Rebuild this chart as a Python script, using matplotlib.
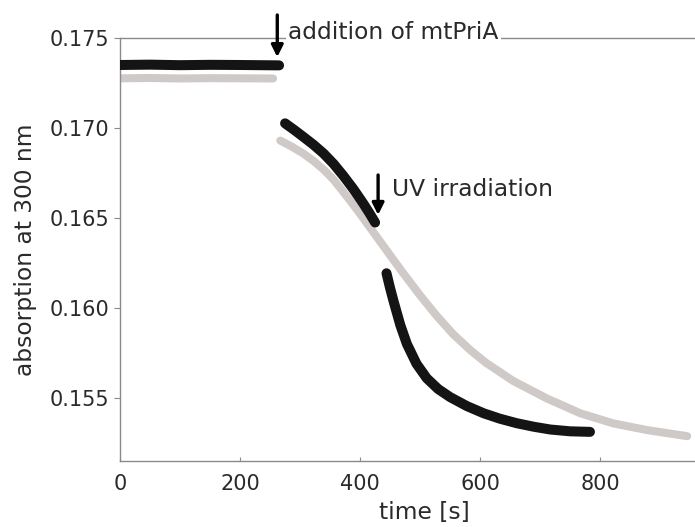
import matplotlib
matplotlib.use("Agg")
import matplotlib.pyplot as plt

# ---- data ----
black_pre_t = [0, 50, 100, 150, 200, 265]
black_pre_y = [0.17350, 0.17352, 0.17349, 0.17351, 0.17350, 0.17348]

black_mid_t = [275, 290, 305, 322, 339, 356, 372, 389, 405, 415, 425]
black_mid_y = [0.17026, 0.16990, 0.16952, 0.16908, 0.16859, 0.16800, 0.16735, 0.16660, 0.16582,
               0.16530, 0.16475]

black_uv_t = [444, 450, 456, 467, 478, 494, 511, 530, 550, 578, 606, 633, 661, 690, 717, 750, 783]
black_uv_y = [0.16193, 0.16110, 0.16035, 0.15905, 0.15800, 0.15690, 0.15610, 0.15550, 0.15505,
              0.15455, 0.15415, 0.15385, 0.15360, 0.15340, 0.15325, 0.15315, 0.15312]

gray_pre_t = [0, 50, 100, 150, 200, 255]
gray_pre_y = [0.17276, 0.17278, 0.17275, 0.17277, 0.17276, 0.17275]

gray_post_t = [267, 286, 305, 322, 339, 356, 372, 389, 405, 430, 455, 472, 500, 528, 555, 583,
               610, 655, 711, 767, 822, 878, 945]
gray_post_y = [0.16930, 0.16897, 0.16859, 0.16818, 0.16770, 0.16712, 0.16645, 0.16572, 0.16500,
               0.16385, 0.16270, 0.16193, 0.16070, 0.15955, 0.15855, 0.15768, 0.15695, 0.15595,
               0.15498, 0.15415, 0.15359, 0.15322, 0.15288]

x_ticks = [0, 200, 400, 600, 800]
y_ticks = [0.155, 0.160, 0.165, 0.170, 0.175]

BLACK = "#141414"
GRAY = "#cfcac7"
SPINE = "#8a8a8a"
TEXT = "#2a2a2a"

fig = plt.figure(figsize=(6.95, 5.27), dpi=100)
ax = fig.add_axes([0.1727, 0.1252, 0.8273, 0.8027])

lw_g = 5.8
lw_b = 7.2
ax.plot(gray_pre_t, gray_pre_y, color=GRAY, lw=lw_g, solid_capstyle="round",
        solid_joinstyle="round", zorder=2)
ax.plot(gray_post_t, gray_post_y, color=GRAY, lw=lw_g, solid_capstyle="round",
        solid_joinstyle="round", zorder=2)
for t, y in [(black_pre_t, black_pre_y), (black_mid_t, black_mid_y), (black_uv_t, black_uv_y)]:
    ax.plot(t, y, color=BLACK, lw=lw_b, solid_capstyle="round", solid_joinstyle="round", zorder=3)

ax.set_xlim(0, 958)
ax.set_ylim(0.1515, 0.175)
ax.set_xticks(x_ticks)
ax.set_xticklabels([str(v) for v in x_ticks])
ax.set_yticks(y_ticks)
ax.set_yticklabels([f"{v:.3f}" for v in y_ticks])

for s in ["left", "bottom", "top"]:
    ax.spines[s].set_color(SPINE)
    ax.spines[s].set_linewidth(1.0)
ax.spines["right"].set_visible(False)

ax.tick_params(axis="y", direction="out", length=4, color=SPINE, labelsize=15,
               labelcolor=TEXT, pad=4)
ax.tick_params(axis="x", direction="in", length=3, color=SPINE, labelsize=15,
               labelcolor=TEXT, pad=9)

ax.set_xlabel("time [s]", fontsize=16.8, color=TEXT)
ax.set_ylabel("absorption at 300 nm", fontsize=16.8, color=TEXT)
ax.xaxis.set_label_coords(0.53, -0.094)
ax.yaxis.set_label_coords(-0.145, 0.5)

# annotations
ax.annotate("", xy=(262, 0.17394), xytext=(262, 0.17628),
            arrowprops=dict(arrowstyle="-|>,head_width=0.35,head_length=0.7",
                            color="black", lw=2.4, shrinkA=0, shrinkB=0),
            annotation_clip=False, zorder=5)
ax.text(280, 0.17528, "addition of mtPriA", fontsize=16.8, color=TEXT,
        ha="left", va="center", clip_on=False, zorder=6,
        bbox=dict(facecolor="white", edgecolor="none", pad=1.5))

ax.annotate("", xy=(430, 0.16517), xytext=(430, 0.16739),
            arrowprops=dict(arrowstyle="-|>,head_width=0.35,head_length=0.7",
                            color="black", lw=2.4, shrinkA=0, shrinkB=0),
            zorder=5)
ax.text(453, 0.16656, "UV irradiation", fontsize=16.8, color=TEXT,
        ha="left", va="center", zorder=6)

fig.savefig("out.png", dpi=100)
